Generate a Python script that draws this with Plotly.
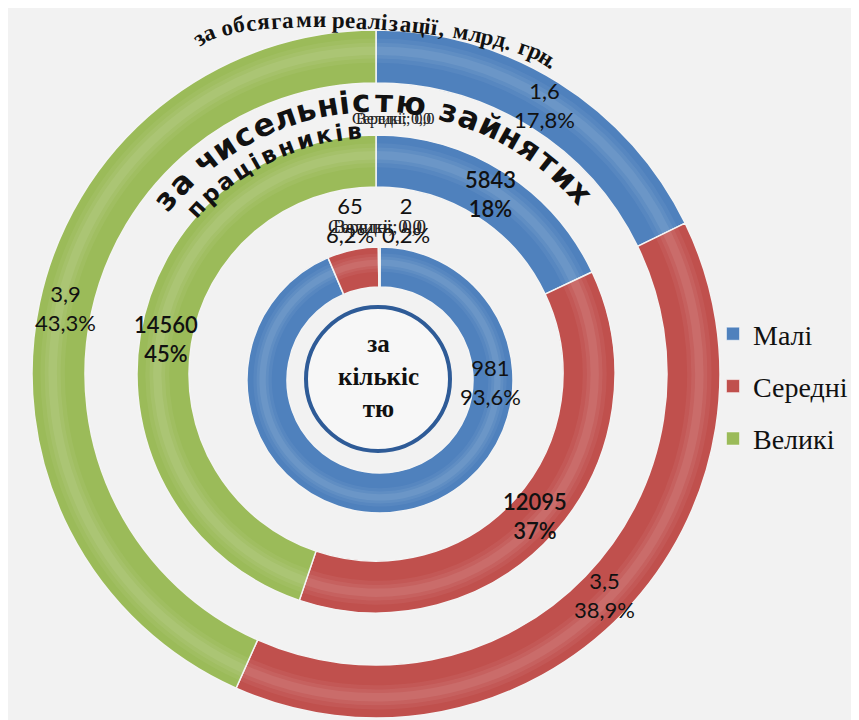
import math
import plotly.graph_objects as go

W, H = 859, 720
OFF = 8  # page body margin of the written html

# ---------------- data ----------------
categories = ["Малі", "Середні", "Великі"]
sales_bn_uah = [1.6, 3.5, 3.9]          # outer ring: за обсягами реалізації, млрд. грн.
employees = [5843, 12095, 14560]         # middle ring: за чисельністю зайнятих працівників
enterprises = [981, 65, 2]               # inner ring: за кількістю

title_sales = "за обсягами реалізації, млрд. грн."
title_emp_1 = "за чисельністю зайнятих"
title_emp_2 = "працівників"
title_count = "за<br>кількіс<br>тю"
overlap_labels = ["Середні; 0,0", "Великі; 0,0"]

colors = ["#4f81bd", "#c0504d", "#9bbb59"]
BG = "#f2f2f2"
INK = "#111111"


def fx(px):
    return (px - OFF) / W


def fy(py):
    return 1 - (py - OFF) / H


def dom(cx, cy, r):
    return dict(x=[fx(cx - r), fx(cx + r)], y=[fy(cy + r), fy(cy - r)])


# ring geometry (page pixels)
RINGS = {
    "outer": dict(cx=376, cy=374, r=344, th=53),
    "middle": dict(cx=376, cy=374, r=239, th=52),
    "inner": dict(cx=380, cy=380, r=133, th=40),
}

fig = go.Figure()
annotations = []


def add_ring(values, g):
    fig.add_trace(go.Pie(
        labels=categories, values=values, sort=False, direction="clockwise", rotation=0,
        domain=dom(g["cx"], g["cy"], g["r"]), hole=(g["r"] - g["th"]) / g["r"],
        marker=dict(colors=colors, line=dict(color="#f4f4f4", width=1.5)),
        textinfo="none", hoverinfo="skip", showlegend=False,
    ))
    # soft bevel highlight (stacked translucent bands on the same slices)
    for f_out, f_in, alpha in [(0.16, 0.62, 0.05), (0.24, 0.54, 0.06), (0.31, 0.47, 0.07)]:
        ro = g["r"] - g["th"] * f_out
        ri = g["r"] - g["th"] * f_in
        fig.add_trace(go.Pie(
            labels=categories, values=values, sort=False, direction="clockwise", rotation=0,
            domain=dom(g["cx"], g["cy"], ro), hole=ri / ro,
            marker=dict(colors=[f"rgba(255,255,255,{alpha})"] * len(values), line=dict(width=0)),
            textinfo="none", hoverinfo="skip", showlegend=False,
        ))


def ring_labels(values, g, fmt_val, pct_dec, weight):
    total = sum(values)
    rm = g["r"] - g["th"] / 2
    cum = 0
    for v in values:
        mid = 2 * math.pi * (cum + v / 2) / total
        cum += v
        px = g["cx"] + rm * math.sin(mid)
        py = g["cy"] - rm * math.cos(mid)
        pct = f"{v / total * 100:.{pct_dec}f}".replace(".", ",")
        annotations.append(dict(x=fx(px), y=fy(py), xref="paper", yref="paper", showarrow=False,
                                text=f"{fmt_val(v)}<br>{pct}%", xanchor="center", yanchor="middle",
                                font=dict(family="Lato", size=22, color=INK, weight=weight)))


add_ring(sales_bn_uah, RINGS["outer"])
add_ring(employees, RINGS["middle"])
add_ring(enterprises, RINGS["inner"])

ring_labels(sales_bn_uah, RINGS["outer"], lambda v: f"{v:.1f}".replace(".", ","), 1, 400)
ring_labels(employees, RINGS["middle"], lambda v: f"{v:d}", 0, 600)

# legend entries
for name, col in zip(categories, colors):
    fig.add_trace(go.Scatter(x=[None], y=[None], mode="markers", name=name, legendgroup=name,
                             marker=dict(symbol="square", size=13, color=col,
                                         line=dict(color="#ffffff", width=0.5)),
                             hoverinfo="skip", showlegend=True))

# inner ring labels (Excel-placed positions)
total_e = sum(enterprises)
inner_pos = [(490, 382), (350, 220), (406, 220)]
for v, (px, py) in zip(enterprises, inner_pos):
    pct = f"{v / total_e * 100:.1f}".replace(".", ",")
    annotations.append(dict(x=fx(px), y=fy(py), xref="paper", yref="paper", showarrow=False,
                            text=f"{v}<br>{pct}%", xanchor="center", yanchor="middle",
                            font=dict(family="Lato", size=22, color=INK)))

# overlapped excel labels
for lab in overlap_labels:
    annotations.append(dict(x=fx(393), y=fy(108), xref="paper", yref="paper", showarrow=False,
                            text=lab, font=dict(family="Liberation Serif", size=16, color="#222222")))
    annotations.append(dict(x=fx(377), y=fy(214), xref="paper", yref="paper", showarrow=False,
                            text=lab, font=dict(family="Liberation Serif", size=19, color="#222222")))

# center title
annotations.append(dict(x=fx(378), y=fy(376), xref="paper", yref="paper", showarrow=False,
                        text=title_count, xanchor="center", yanchor="middle",
                        font=dict(family="Liberation Serif", size=25, color=INK, weight="bold")))


def char_w(ch, serif):
    if ch == " ":
        return 0.27 if serif else 0.36
    if ch in ",.":
        return 0.26 if serif else 0.38
    if ch in "іїі":
        return 0.29 if serif else 0.36
    if ch in "мшюж":
        return 0.78 if serif else 0.95
    return 0.5 if serif else 0.68


def centers_of(text, serif):
    out, acc = [], 0
    for c in text:
        w = char_w(c, serif)
        out.append(acc + w / 2)
        acc += w
    return out


def circle_text(text, cx, cy, r, a0, a1, size, family, weight):
    cs = centers_of(text, False)
    c0, c1 = cs[0], cs[-1]
    for ch, c in zip(text, cs):
        if ch == " ":
            continue
        ang = a0 + (a1 - a0) * (c - c0) / (c1 - c0)
        t = math.radians(ang)
        px = cx + r * math.sin(t)
        py = cy - r * math.cos(t)
        annotations.append(dict(x=fx(px), y=fy(py), xref="paper", yref="paper", showarrow=False,
                                text=ch, textangle=ang, xanchor="center", yanchor="middle",
                                font=dict(family=family, size=size, color=INK, weight=weight)))


def arch_text(text, x0, y0, a, b, tilt, t0, t1, size, family, weight):
    phi = math.radians(tilt)
    n = 3000
    ts, pts = [], []
    for i in range(n + 1):
        t = math.radians(t0 + (t1 - t0) * i / n)
        bx = a * math.sin(t)
        by = b * (1 - math.cos(t))
        pts.append((x0 + bx * math.cos(phi) - by * math.sin(phi),
                    y0 + bx * math.sin(phi) + by * math.cos(phi)))
        ts.append(t)
    cum = [0.0]
    for i in range(1, len(pts)):
        cum.append(cum[-1] + math.dist(pts[i], pts[i - 1]))
    L = cum[-1]
    cs = centers_of(text, True)
    c0, c1 = cs[0], cs[-1]
    j = 0
    for ch, c in zip(text, cs):
        s = L * (c - c0) / (c1 - c0)
        while j < len(cum) - 2 and cum[j + 1] < s:
            j += 1
        t = ts[j]
        px, py = pts[j]
        ang = math.degrees(math.atan2(b * math.sin(t), a * math.cos(t))) + tilt
        if ch == " ":
            continue
        annotations.append(dict(x=fx(px), y=fy(py), xref="paper", yref="paper", showarrow=False,
                                text=ch, textangle=ang, xanchor="center", yanchor="middle",
                                font=dict(family=family, size=size, color=INK, weight=weight)))


arch_text(title_sales, 378, 22, 182, 36, 4, -78, 78, 23, "Liberation Serif", "bold")
circle_text(title_emp_1, 376, 376, 275, -50, 48, 31, "DejaVu Sans", "bold")
circle_text(title_emp_2, 376, 376, 246, -47, -5, 23, "DejaVu Sans", "bold")

shapes = [dict(type="circle", xref="paper", yref="paper",
               x0=fx(378 - 72), x1=fx(378 + 72), y0=fy(379 + 72), y1=fy(379 - 72),
               line=dict(color="#2e5b97", width=4), fillcolor="#f7f7f7", layer="below")]

fig.update_layout(
    width=W, height=H, margin=dict(l=0, r=0, t=0, b=0),
    paper_bgcolor=BG, plot_bgcolor=BG,
    separators=", ",
    xaxis=dict(visible=False, domain=[0.99, 1.0]), yaxis=dict(visible=False, domain=[0.99, 1.0]),
    legend=dict(x=fx(713), y=fy(309), xanchor="left", yanchor="top",
                font=dict(family="Liberation Serif", size=28, color=INK),
                bgcolor="rgba(0,0,0,0)", tracegroupgap=13, itemwidth=30),
    annotations=annotations, shapes=shapes,
)

fig.write_html("out.html")
